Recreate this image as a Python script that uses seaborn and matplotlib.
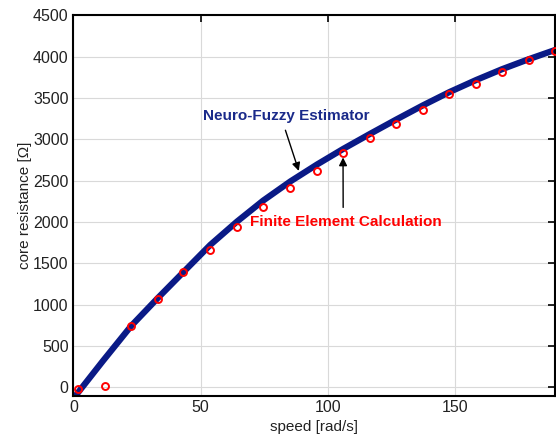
import matplotlib
matplotlib.use("Agg")
import matplotlib.pyplot as plt
import seaborn as sns
import pandas as pd

# neuro-fuzzy estimator curve
speed_nf = [0.0, 11.5, 22.7, 33.1, 43.2, 53.8, 64.3, 74.6, 85.3, 95.8, 106.0,
            116.5, 126.9, 137.3, 147.8, 158.3, 168.5, 179.0, 189.4, 192.0]
res_nf = [-135, 315, 742, 1077, 1392, 1722, 2004, 2258, 2490, 2695, 2882,
          3063, 3238, 3408, 3570, 3716, 3847, 3968, 4080, 4108]

# finite element points
speed_fe = [1.7, 12.3, 22.7, 33.1, 43.2, 53.8, 64.3, 74.6, 85.3, 95.8, 106.0,
            116.5, 126.9, 137.3, 147.8, 158.3, 168.5, 179.0, 189.4]
res_fe = [-15, 12, 737, 1071, 1389, 1665, 1935, 2177, 2405, 2621, 2830,
          3017, 3187, 3352, 3543, 3666, 3814, 3960, 4062]

xticks = [0, 50, 100, 150]
yticks = [0, 500, 1000, 1500, 2000, 2500, 3000, 3500, 4000, 4500]

sns.set_style("whitegrid", {"grid.color": "#d9d9d9", "axes.edgecolor": "black"})
plt.rcParams["font.family"] = ["Liberation Sans", "DejaVu Sans"]

df_nf = pd.DataFrame({"speed": speed_nf, "res": res_nf})
df_fe = pd.DataFrame({"speed": speed_fe, "res": res_fe})

fig = plt.figure(figsize=(5.56, 4.47), dpi=100)
ax = fig.add_axes([0.132, 0.115, 0.867, 0.851])

sns.lineplot(data=df_nf, x="speed", y="res", ax=ax, color="#0a1a86",
             linewidth=4.5, sort=False, estimator=None, zorder=2)
sns.lineplot(data=df_fe, x="speed", y="res", ax=ax, linestyle="", marker="o",
             markersize=5, markerfacecolor="none", markeredgecolor="red",
             markeredgewidth=1.4, sort=False, estimator=None, zorder=3)

ax.set_xlim(0, 189.5)
ax.set_ylim(-100, 4500)
ax.set_xticks(xticks)
ax.set_yticks(yticks)
ax.grid(True, linewidth=0.8)
for s in ax.spines.values():
    s.set_linewidth(1.5)
    s.set_color("black")
ax.tick_params(direction="in", length=5, width=1.2, top=True, right=True,
               labelsize=11.5, colors="black", labelcolor="#222222")
ax.set_xlabel("speed [rad/s]", fontsize=11, color="#222222", labelpad=3)
ax.set_ylabel("core resistance [Ω]", fontsize=11, color="#222222", labelpad=1)

ax.annotate("Neuro-Fuzzy Estimator", xy=(88.6, 2617), xytext=(51.0, 3281),
            fontsize=11, fontweight="bold", color="#1a2a8a", va="center",
            arrowprops=dict(arrowstyle="-|>", color="black", lw=1, shrinkA=3,
                            shrinkB=0, mutation_scale=12, relpos=(0.48, 0.0)))
ax.annotate("Finite Element Calculation", xy=(106.0, 2780), xytext=(69.5, 2001),
            fontsize=11, fontweight="bold", color="red", va="center",
            arrowprops=dict(arrowstyle="-|>", color="black", lw=1, shrinkA=3,
                            shrinkB=0, mutation_scale=12, relpos=(0.485, 1.0)))

fig.savefig("out.png", dpi=100)
